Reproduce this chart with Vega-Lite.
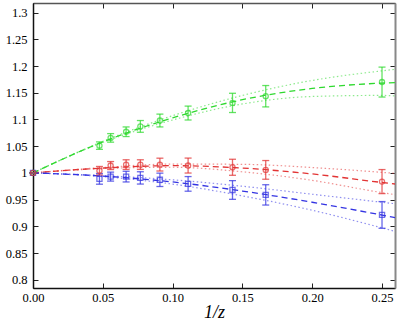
{
  "$schema": "https://vega.github.io/schema/vega-lite/v6.json",
  "width": 362,
  "height": 285,
  "autosize": {"type": "none"},
  "padding": {"left": 33, "top": 3, "right": 4, "bottom": 38},
  "background": "white",
  "config": {
    "view": {"stroke": "#666", "strokeWidth": 1},
    "font": "Liberation Serif",
    "axis": {"labelFont": "Liberation Serif", "titleFont": "Liberation Serif", "labelFontSize": 12.5, "labelColor": "#000", "grid": false, "tickColor": "#222", "domainColor": "#111", "labelOverlap": false}
  },
  "datasets": {
    "pts": [
      {"s": "g", "x": 0, "y": 1, "e": 0},
      {"s": "g", "x": 0.0476, "y": 1.051, "e": 0.007},
      {"s": "g", "x": 0.0556, "y": 1.0655, "e": 0.008},
      {"s": "g", "x": 0.0667, "y": 1.077, "e": 0.009},
      {"s": "g", "x": 0.0769, "y": 1.087, "e": 0.011},
      {"s": "g", "x": 0.0909, "y": 1.098, "e": 0.012},
      {"s": "g", "x": 0.1111, "y": 1.112, "e": 0.013},
      {"s": "g", "x": 0.1429, "y": 1.131, "e": 0.018},
      {"s": "g", "x": 0.1667, "y": 1.1435, "e": 0.02},
      {"s": "g", "x": 0.25, "y": 1.17, "e": 0.028},
      {"s": "b", "x": 0, "y": 1, "e": 0},
      {"s": "b", "x": 0.0476, "y": 0.9888, "e": 0.01},
      {"s": "b", "x": 0.0556, "y": 0.993, "e": 0.0084},
      {"s": "b", "x": 0.0667, "y": 0.993, "e": 0.01},
      {"s": "b", "x": 0.0769, "y": 0.9906, "e": 0.0115},
      {"s": "b", "x": 0.0909, "y": 0.987, "e": 0.0125},
      {"s": "b", "x": 0.1111, "y": 0.9794, "e": 0.0137},
      {"s": "b", "x": 0.1429, "y": 0.968, "e": 0.0175},
      {"s": "b", "x": 0.1667, "y": 0.9588, "e": 0.019},
      {"s": "b", "x": 0.25, "y": 0.9213, "e": 0.025},
      {"s": "r", "x": 0, "y": 1, "e": 0},
      {"s": "r", "x": 0.0476, "y": 1.004, "e": 0.008},
      {"s": "r", "x": 0.0556, "y": 1.0137, "e": 0.0075},
      {"s": "r", "x": 0.0667, "y": 1.0155, "e": 0.009},
      {"s": "r", "x": 0.0769, "y": 1.0155, "e": 0.009},
      {"s": "r", "x": 0.0909, "y": 1.0155, "e": 0.012},
      {"s": "r", "x": 0.1111, "y": 1.0137, "e": 0.014},
      {"s": "r", "x": 0.1429, "y": 1.0105, "e": 0.015},
      {"s": "r", "x": 0.1667, "y": 1.0056, "e": 0.0175},
      {"s": "r", "x": 0.25, "y": 0.9837, "e": 0.0225}
    ],
    "lines": [
      {"s": "g", "k": "fit", "x": 0, "y": 1},
      {"s": "g", "k": "fit", "x": 0.05, "y": 1.058},
      {"s": "g", "k": "fit", "x": 0.1, "y": 1.103},
      {"s": "g", "k": "fit", "x": 0.15, "y": 1.137},
      {"s": "g", "k": "fit", "x": 0.2, "y": 1.158},
      {"s": "g", "k": "fit", "x": 0.25, "y": 1.168},
      {"s": "g", "k": "fit", "x": 0.26, "y": 1.169},
      {"s": "g", "k": "hi", "x": 0, "y": 1},
      {"s": "g", "k": "hi", "x": 0.05, "y": 1.059},
      {"s": "g", "k": "hi", "x": 0.1, "y": 1.107},
      {"s": "g", "k": "hi", "x": 0.15, "y": 1.145},
      {"s": "g", "k": "hi", "x": 0.2, "y": 1.173},
      {"s": "g", "k": "hi", "x": 0.25, "y": 1.191},
      {"s": "g", "k": "hi", "x": 0.26, "y": 1.194},
      {"s": "g", "k": "lo", "x": 0, "y": 1},
      {"s": "g", "k": "lo", "x": 0.05, "y": 1.057},
      {"s": "g", "k": "lo", "x": 0.1, "y": 1.099},
      {"s": "g", "k": "lo", "x": 0.15, "y": 1.129},
      {"s": "g", "k": "lo", "x": 0.2, "y": 1.143},
      {"s": "g", "k": "lo", "x": 0.25, "y": 1.145},
      {"s": "g", "k": "lo", "x": 0.26, "y": 1.144},
      {"s": "r", "k": "fit", "x": 0, "y": 1},
      {"s": "r", "k": "fit", "x": 0.05, "y": 1.009},
      {"s": "r", "k": "fit", "x": 0.1, "y": 1.0135},
      {"s": "r", "k": "fit", "x": 0.15, "y": 1.009},
      {"s": "r", "k": "fit", "x": 0.2, "y": 0.998},
      {"s": "r", "k": "fit", "x": 0.25, "y": 0.982},
      {"s": "r", "k": "fit", "x": 0.26, "y": 0.979},
      {"s": "r", "k": "hi", "x": 0, "y": 1},
      {"s": "r", "k": "hi", "x": 0.05, "y": 1.01},
      {"s": "r", "k": "hi", "x": 0.1, "y": 1.0165},
      {"s": "r", "k": "hi", "x": 0.15, "y": 1.016},
      {"s": "r", "k": "hi", "x": 0.2, "y": 1.01},
      {"s": "r", "k": "hi", "x": 0.25, "y": 1.001},
      {"s": "r", "k": "hi", "x": 0.26, "y": 0.999},
      {"s": "r", "k": "lo", "x": 0, "y": 1},
      {"s": "r", "k": "lo", "x": 0.05, "y": 1.008},
      {"s": "r", "k": "lo", "x": 0.1, "y": 1.0105},
      {"s": "r", "k": "lo", "x": 0.15, "y": 1.002},
      {"s": "r", "k": "lo", "x": 0.2, "y": 0.986},
      {"s": "r", "k": "lo", "x": 0.25, "y": 0.963},
      {"s": "r", "k": "lo", "x": 0.26, "y": 0.959},
      {"s": "b", "k": "fit", "x": 0, "y": 1},
      {"s": "b", "k": "fit", "x": 0.05, "y": 0.994},
      {"s": "b", "k": "fit", "x": 0.1, "y": 0.983},
      {"s": "b", "k": "fit", "x": 0.15, "y": 0.966},
      {"s": "b", "k": "fit", "x": 0.2, "y": 0.945},
      {"s": "b", "k": "fit", "x": 0.25, "y": 0.921},
      {"s": "b", "k": "fit", "x": 0.26, "y": 0.916},
      {"s": "b", "k": "hi", "x": 0, "y": 1},
      {"s": "b", "k": "hi", "x": 0.05, "y": 0.995},
      {"s": "b", "k": "hi", "x": 0.1, "y": 0.987},
      {"s": "b", "k": "hi", "x": 0.15, "y": 0.975},
      {"s": "b", "k": "hi", "x": 0.2, "y": 0.96},
      {"s": "b", "k": "hi", "x": 0.25, "y": 0.945},
      {"s": "b", "k": "hi", "x": 0.26, "y": 0.942},
      {"s": "b", "k": "lo", "x": 0, "y": 1},
      {"s": "b", "k": "lo", "x": 0.05, "y": 0.993},
      {"s": "b", "k": "lo", "x": 0.1, "y": 0.979},
      {"s": "b", "k": "lo", "x": 0.15, "y": 0.957},
      {"s": "b", "k": "lo", "x": 0.2, "y": 0.93},
      {"s": "b", "k": "lo", "x": 0.25, "y": 0.897},
      {"s": "b", "k": "lo", "x": 0.26, "y": 0.89}
    ]
  },
  "layer": [
    {
      "data": {"name": "lines"},
      "transform": [{"filter": "datum.k != 'fit'"}],
      "mark": {"type": "line", "strokeDash": [1.5, 2.5], "strokeWidth": 1.2, "opacity": 0.55, "interpolate": "monotone", "clip": true},
      "encoding": {
        "x": {"field": "x", "type": "quantitative", "scale": {"domain": [0, 0.2593], "nice": false, "zero": false},
          "axis": {"orient": "top", "labels": false, "title": null, "tickSize": -5, "domainColor": "#555", "domainWidth": 1.5, "values": [0, 0.05, 0.1, 0.15, 0.2, 0.25]}},
        "y": {"field": "y", "type": "quantitative", "scale": {"domain": [0.7845, 1.318], "nice": false, "zero": false},
          "axis": {"orient": "right", "labels": false, "title": null, "tickSize": -5, "domainColor": "#888", "domainWidth": 2, "values": [0.8, 0.85, 0.9, 0.95, 1, 1.05, 1.1, 1.15, 1.2, 1.25, 1.3]}},
        "color": {"field": "s", "type": "nominal", "scale": {"domain": ["g", "r", "b"], "range": ["#2fd92f", "#e23434", "#3434e2"]}, "legend": null},
        "detail": {"field": "k"}
      }
    },
    {
      "data": {"name": "lines"},
      "transform": [{"filter": "datum.k == 'fit'"}],
      "mark": {"type": "line", "strokeDash": [6, 4], "strokeWidth": 1.3, "interpolate": "monotone", "clip": true},
      "encoding": {
        "x": {"field": "x", "type": "quantitative",
          "axis": {"orient": "bottom", "format": ".2f", "labelFont": "Liberation Serif", "labelFontSize": 12.5, "labelOverlap": false, "labelFlush": false, "title": "1/z", "titleFont": "Liberation Serif", "titleFontStyle": "italic", "titleFontWeight": "normal", "titleFontSize": 18, "titleColor": "#000", "titlePadding": 0, "tickSize": -5, "labelPadding": 8, "domainWidth": 1.5, "values": [0, 0.05, 0.1, 0.15, 0.2, 0.25]}},
        "y": {"field": "y", "type": "quantitative",
          "axis": {"orient": "left", "labelFont": "Liberation Serif", "labelFontSize": 12.5, "labelOverlap": false, "labelFlush": false, "labelExpr": "datum.value > 0.99 && datum.value < 1.01 ? '1' : format(datum.value, '~g')", "title": null, "tickSize": -5, "labelPadding": 11, "domainWidth": 1.5, "values": [0.8, 0.85, 0.9, 0.95, 1, 1.05, 1.1, 1.15, 1.2, 1.25, 1.3]}},
        "color": {"field": "s", "type": "nominal", "legend": null}
      }
    },
    {
      "data": {"name": "pts"},
      "mark": {"type": "errorbar", "ticks": {"size": 7}, "opacity": 0.75, "thickness": 1.3},
      "encoding": {
        "x": {"field": "x", "type": "quantitative", "axis": null},
        "y": {"field": "y", "type": "quantitative", "axis": null},
        "yError": {"field": "e"},
        "color": {"field": "s", "type": "nominal", "legend": null}
      }
    },
    {
      "data": {"name": "pts"},
      "mark": {"type": "point", "filled": false, "strokeWidth": 1.3, "size": 26},
      "encoding": {
        "x": {"field": "x", "type": "quantitative", "axis": null},
        "y": {"field": "y", "type": "quantitative", "axis": null},
        "shape": {"field": "s", "type": "nominal", "scale": {"domain": ["g", "r", "b"], "range": ["circle", "circle", "square"]}, "legend": null},
        "color": {"field": "s", "type": "nominal", "legend": null}
      }
    }
  ],
  "resolve": {"axis": {"x": "independent", "y": "independent"}}
}
